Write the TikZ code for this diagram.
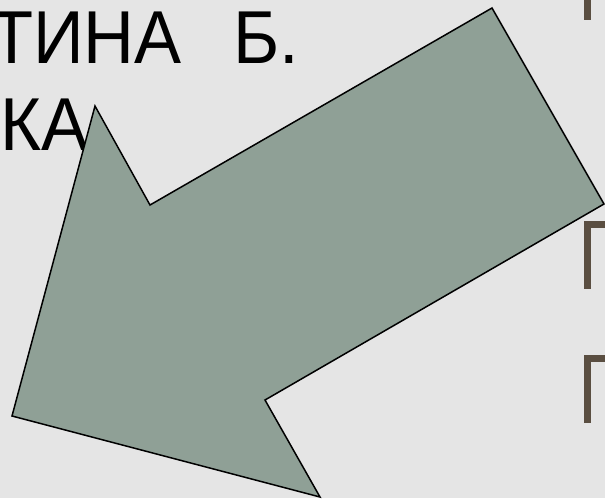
\documentclass[tikz,border=0pt]{standalone}
\usepackage{fontspec}
\setmainfont{Liberation Sans}
\newfontfamily\slidefont[FakeStretch=0.94]{Liberation Sans}
\usetikzlibrary{positioning}
\definecolor{slidebg}{RGB}{229,229,229}
\definecolor{arrowgreen}{RGB}{143,160,150}
\definecolor{letterbrown}{RGB}{90,78,65}

\begin{document}
\begin{tikzpicture}[
    x=1pt, y=-1pt,
    title/.style={anchor=base west, inner sep=0pt, text=black,
        font=\slidefont\fontsize{75}{90}\selectfont},
    stroke/.style={fill=letterbrown, draw=none},
    bigarrow/.style={fill=arrowgreen, draw=black, line width=1.5pt, line join=miter}
    ]
    % Background
    \fill[slidebg] (0,0) rectangle (605,498);
    \useasboundingbox (0,0) rectangle (605,498);
    \clip (0,0) rectangle (605,498);

    % Title text
    \node[title] (tina) at (-10,63) {ТИНА};
    \node[title] (b) at (233,63) {Б.};
    \node[title] (ka) at (0,150) {КА};

    % Letter pieces at the right edge
    \fill[stroke] (584,0) rectangle (591,20);
    \fill[stroke] (584,221) rectangle (591,289);
    \fill[stroke] (584,221) rectangle (605,228);
    \fill[stroke] (584,355) rectangle (591,423);
    \fill[stroke] (584,355) rectangle (605,362);

    % Big arrow
    \draw[bigarrow] (492,8) -- (604,204) -- (265,400) -- (320,497)
        -- (12,416) -- (95,106) -- (150,205) -- cycle;
\end{tikzpicture}
\end{document}
